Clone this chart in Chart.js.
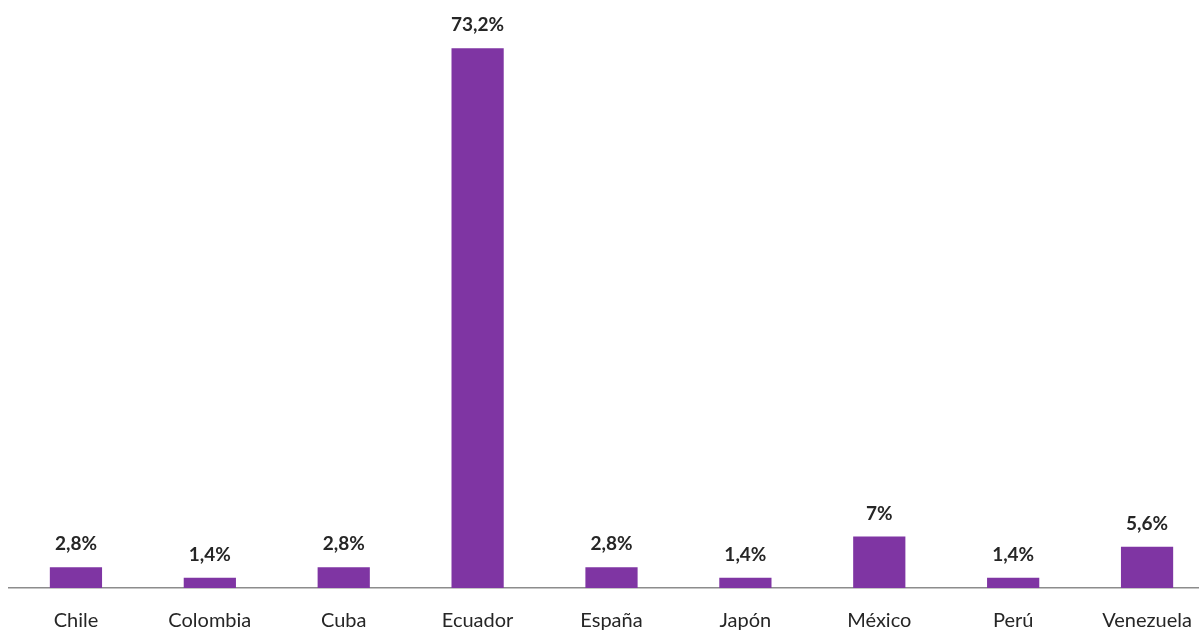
<!DOCTYPE html>
<html>
<head>
<meta charset="utf-8">
<script src="https://cdn.jsdelivr.net/npm/chart.js@4/dist/chart.umd.min.js"></script>
<style>
  html, body { margin: 0; padding: 0; background: #fff; overflow: hidden; }
  #wrap { position: relative; width: 1214px; height: 633px; }
</style>
</head>
<body>
<div id="wrap"><canvas id="paisChart"></canvas></div>
<script>
const paises = ['Chile', 'Colombia', 'Cuba', 'Ecuador', 'España', 'Japón', 'México', 'Perú', 'Venezuela'];
const porcentajes = [2.8, 1.4, 2.8, 73.2, 2.8, 1.4, 7, 1.4, 5.6];
const etiquetas = ['2,8%', '1,4%', '2,8%', '73,2%', '2,8%', '1,4%', '7%', '1,4%', '5,6%'];

// writes the percentage above each bar
const valueLabels = {
  id: 'valueLabels',
  afterDatasetsDraw(chart) {
    const c = chart.ctx;
    const meta = chart.getDatasetMeta(0);
    c.save();
    c.font = 'bold 19px Lato, "Open Sans", sans-serif';
    c.fillStyle = '#262626';
    c.textAlign = 'center';
    c.textBaseline = 'middle';
    meta.data.forEach((bar, i) => {
      c.fillText(etiquetas[i], bar.x, bar.y - 23);
    });
    c.restore();
  }
};

const ctx = document.getElementById('paisChart').getContext('2d');
const chart = new Chart(ctx, {
  type: 'bar',
  data: {
    labels: paises,
    datasets: [{
      data: porcentajes,
      backgroundColor: '#7f35a3',
      barPercentage: 0.39,
      categoryPercentage: 1.0
    }]
  },
  options: {
    responsive: true,
    maintainAspectRatio: false,
    animation: false,
    layout: { padding: { top: 35, left: 9, right: 0, bottom: 0 } },
    plugins: {
      legend: { display: false },
      tooltip: { enabled: false }
    },
    scales: {
      x: {
        grid: { display: false, drawTicks: false },
        border: { display: true, color: '#8c8c8c', width: 1.5 },
        ticks: {
          color: '#262626',
          padding: 21,
          font: { family: 'Lato, "Open Sans", sans-serif', size: 20 }
        },
        afterFit(scale) { scale.height = 45; }
      },
      y: {
        display: false,
        min: 0,
        max: 75
      }
    }
  },
  plugins: [valueLabels]
});
</script>
</body>
</html>
